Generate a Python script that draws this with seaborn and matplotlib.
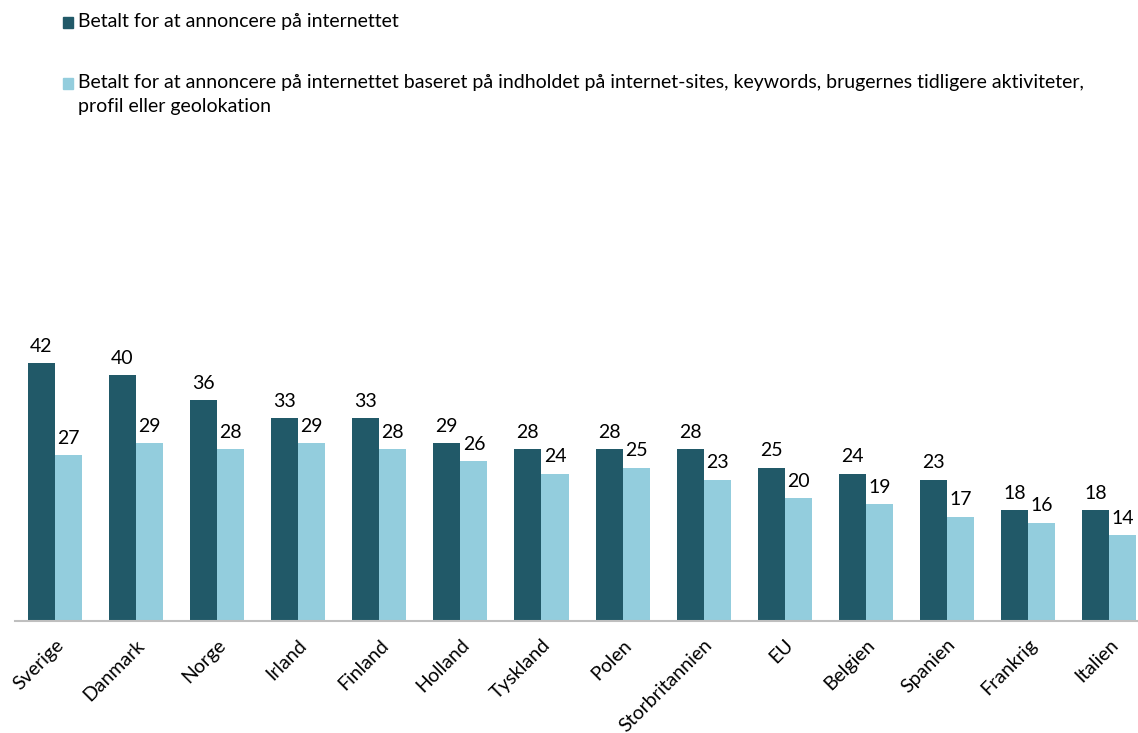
import matplotlib
matplotlib.use("Agg")
import matplotlib.pyplot as plt
from matplotlib.patches import Rectangle
import seaborn as sns
import pandas as pd

countries = ["Sverige", "Danmark", "Norge", "Irland", "Finland", "Holland", "Tyskland",
             "Polen", "Storbritannien", "EU", "Belgien", "Spanien", "Frankrig", "Italien"]
paid_ads = [42, 40, 36, 33, 33, 29, 28, 28, 28, 25, 24, 23, 18, 18]
targeted_ads = [27, 29, 28, 29, 28, 26, 24, 25, 23, 20, 19, 17, 16, 14]
series_names = ["Betalt for at annoncere på internettet",
                "Betalt for at annoncere på internettet baseret på indholdet på internet-sites, keywords, brugernes tidligere aktiviteter,\nprofil eller geolokation"]
colors = ["#215968", "#93CDDD"]

df = pd.DataFrame({
    "land": countries * 2,
    "værdi": paid_ads + targeted_ads,
    "serie": [series_names[0]] * len(countries) + [series_names[1]] * len(countries),
})

sns.set_theme(style="white")
plt.rcParams["font.family"] = ["Lato", "DejaVu Sans"]

W, H = 1138, 733
fig = plt.figure(figsize=(W / 100, H / 100), dpi=100)
top_px, bot_px, left_px, right_px = 150, 621, 14.5, 1138
ax = fig.add_axes([left_px / W, 1 - bot_px / H, (right_px - left_px) / W, (bot_px - top_px) / H])

sns.barplot(data=df, x="land", y="værdi", hue="serie", palette=colors, width=0.667,
            saturation=1, ax=ax, legend=False, errorbar=None, linewidth=0, edgecolor="none")

for cont in ax.containers:
    ax.bar_label(cont, fmt="%d", padding=6, fontsize=14, color="#000000")

ax.set_xlim(-0.5, 13.5 - 11.5 / 81)
ax.set_ylim(0, (bot_px - top_px) / 6.14)
ax.set_xlabel("")
ax.set_ylabel("")
ax.set_yticks([])
for s in ["top", "right", "left"]:
    ax.spines[s].set_visible(False)
ax.spines["bottom"].set_color("#BFBFBF")
ax.spines["bottom"].set_linewidth(1.5)
ax.tick_params(axis="x", length=0, pad=11)
plt.setp(ax.get_xticklabels(), rotation=45, ha="right", rotation_mode="anchor",
         fontsize=14, color="#000000")

# legend
leg_y = [22, 83]
for name, col, y in zip(series_names, colors, leg_y):
    fig.patches.append(Rectangle((63 / W, 1 - (y + 6) / H), 10 / W, 11 / H,
                                 transform=fig.transFigure, color=col))
    fig.text(78 / W, 1 - (y - 9) / H, name, fontsize=14, va="top", ha="left",
             color="#000000", linespacing=1.5)

fig.savefig("out.png", dpi=100)
